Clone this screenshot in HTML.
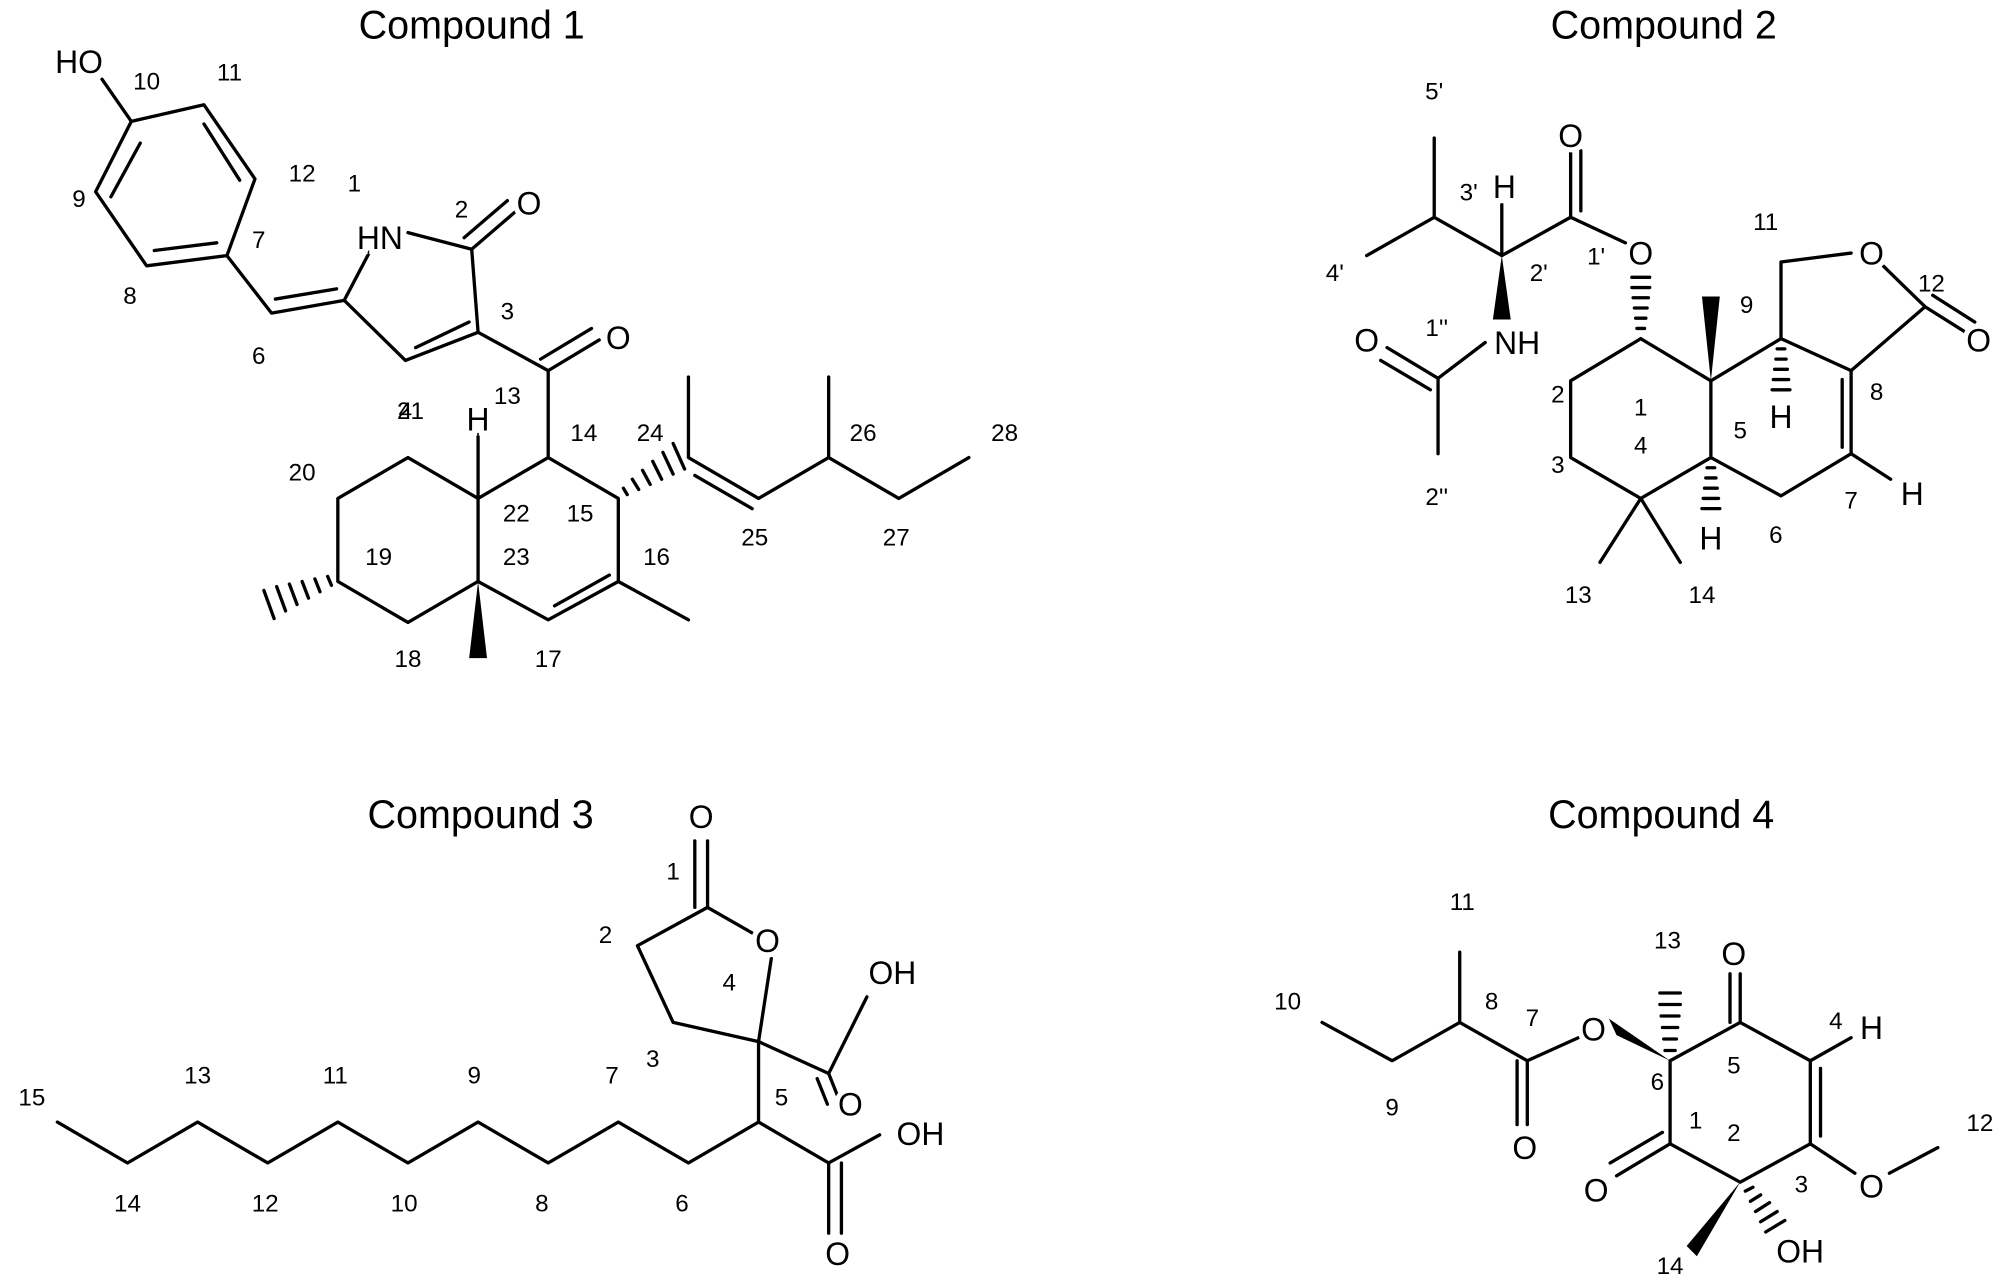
<!DOCTYPE html>
<html><head><meta charset="utf-8"><style>
html,body{margin:0;padding:0;background:#fff;}
svg{display:block;}
text{font-family:"Liberation Sans",Arial,sans-serif;fill:#000;}
.t{font-size:31px;text-anchor:middle;}
.a{font-size:25px;text-anchor:middle;stroke:#fff;stroke-width:8px;paint-order:stroke;}
.n{font-size:19px;text-anchor:middle;}
line,polyline{stroke:#000;stroke-width:2.6;fill:none;stroke-linecap:round;stroke-linejoin:round;}
</style></head><body>
<svg width="1999" height="1278" viewBox="0 0 1568 1000" preserveAspectRatio="none">
<!-- Compound 1 -->
<text class="t" x="370" y="30">Compound 1</text>
<polyline points="80,62 103,95 160,82 200,140 178,200 115,208 75,150 103,95"/>
<line x1="110" y1="112" x2="87" y2="154"/>
<line x1="160" y1="97" x2="188" y2="141"/>
<line x1="170" y1="190" x2="121" y2="196"/>
<polyline points="178,200 213,245 270,235 318,282 375,260 370,195 320,182"/>
<line x1="216" y1="234" x2="264" y2="226"/>
<line x1="270" y1="235" x2="290" y2="197"/>
<line x1="326" y1="272" x2="368" y2="252"/>
<line x1="370" y1="195" x2="405" y2="165"/><line x1="364" y1="186" x2="398" y2="157"/>
<polyline points="375,260 430,290 430,358"/>
<line x1="430" y1="290" x2="470" y2="266"/><line x1="424" y1="281" x2="464" y2="257"/>
<polyline points="430,358 485,390 485,455 430,485 375,455 375,390 430,358"/>
<line x1="478" y1="450" x2="435" y2="474"/>
<line x1="485" y1="455" x2="540" y2="485"/>
<line x1="375" y1="390" x2="375" y2="340"/>
<polyline points="375,390 320,358 265,390 265,455 320,487 375,455"/>
<polygon points="375,455 368,515 382,515" fill="#000"/>
<g stroke="#000" stroke-width="2.2">
<line x1="492" y1="387" x2="489" y2="382"/><line x1="501" y1="383" x2="496" y2="375"/><line x1="510" y1="379" x2="504" y2="368"/><line x1="519" y1="375" x2="512" y2="361"/><line x1="528" y1="371" x2="520" y2="354"/><line x1="537" y1="367" x2="528" y2="347"/>
<line x1="260" y1="458" x2="257" y2="451"/><line x1="251" y1="463" x2="247" y2="453"/><line x1="242" y1="468" x2="237" y2="455"/><line x1="233" y1="473" x2="227" y2="457"/><line x1="224" y1="478" x2="217" y2="459"/><line x1="215" y1="484" x2="207" y2="462"/>
</g>
<polyline points="540,295 540,358 595,390 650,358 705,390 760,358"/>
<line x1="545" y1="372" x2="590" y2="398"/>
<line x1="650" y1="358" x2="650" y2="295"/>
<text class="a" x="62" y="57">HO</text>
<text class="a" x="298" y="195">HN</text>
<text class="a" x="415" y="168">O</text>
<text class="a" x="485" y="273">O</text>
<text class="a" x="375" y="337">H</text>
<g class="n">
<text x="115" y="70">10</text><text x="180" y="63">11</text><text x="237" y="142">12</text><text x="278" y="150">1</text><text x="62" y="162">9</text>
<text x="362" y="170">2</text><text x="203" y="194">7</text><text x="102" y="238">8</text><text x="203" y="285">6</text><text x="398" y="250">3</text>
<text x="318" y="328">4</text><text x="322" y="328">21</text><text x="398" y="316">13</text><text x="458" y="345">14</text><text x="510" y="345">24</text>
<text x="237" y="376">20</text><text x="405" y="408">22</text><text x="455" y="408">15</text><text x="297" y="442">19</text><text x="405" y="442">23</text>
<text x="515" y="442">16</text><text x="592" y="427">25</text><text x="677" y="345">26</text><text x="703" y="427">27</text><text x="788" y="345">28</text>
<text x="320" y="522">18</text><text x="430" y="522">17</text>
</g>

<!-- Compound 2 -->
<text class="t" x="1305" y="30">Compound 2</text>
<polyline points="1287,265 1232,298 1232,358 1287,390 1342,358 1342,298 1287,265"/>
<polyline points="1342,298 1397,265 1452,290 1452,355 1397,388 1342,358"/>
<line x1="1445" y1="297" x2="1445" y2="350"/>
<polyline points="1397,265 1397,205 1452,198"/>
<polyline points="1474,205 1510,240 1452,290"/>
<line x1="1510" y1="240" x2="1545" y2="262"/><line x1="1516" y1="231" x2="1549" y2="252"/>
<line x1="1452" y1="355" x2="1483" y2="375"/>
<polygon points="1342,298 1335,232 1349,232" fill="#000"/>
<g stroke="#000" stroke-width="2.2">
<line x1="1394" y1="273" x2="1400" y2="273"/><line x1="1393" y1="281" x2="1401" y2="281"/><line x1="1392" y1="289" x2="1402" y2="289"/><line x1="1391" y1="297" x2="1403" y2="297"/><line x1="1390" y1="305" x2="1404" y2="305"/>
<line x1="1339" y1="366" x2="1345" y2="366"/><line x1="1338" y1="374" x2="1346" y2="374"/><line x1="1337" y1="382" x2="1347" y2="382"/><line x1="1336" y1="390" x2="1348" y2="390"/><line x1="1335" y1="398" x2="1349" y2="398"/>
<line x1="1284" y1="257" x2="1290" y2="257"/><line x1="1283" y1="249" x2="1291" y2="249"/><line x1="1282" y1="241" x2="1292" y2="241"/><line x1="1281" y1="233" x2="1293" y2="233"/><line x1="1280" y1="225" x2="1294" y2="225"/><line x1="1280" y1="217" x2="1294" y2="217"/>
</g>
<line x1="1287" y1="390" x2="1255" y2="440"/><line x1="1287" y1="390" x2="1318" y2="440"/>
<polyline points="1275,190 1232,170 1178,200 1125,170 1072,200"/>
<line x1="1232" y1="170" x2="1232" y2="118"/><line x1="1240" y1="165" x2="1240" y2="118"/>
<line x1="1125" y1="170" x2="1125" y2="108"/>
<line x1="1178" y1="200" x2="1178" y2="160"/>
<polygon points="1178,200 1171,250 1185,250" fill="#000"/>
<polyline points="1165,268 1128,296 1128,355"/>
<line x1="1128" y1="296" x2="1088" y2="272"/><line x1="1122" y1="305" x2="1083" y2="282"/>
<text class="a" x="1468" y="207">O</text>
<text class="a" x="1552" y="275">O</text>
<text class="a" x="1500" y="395">H</text>
<text class="a" x="1397" y="335">H</text>
<text class="a" x="1342" y="430">H</text>
<text class="a" x="1287" y="207">O</text>
<text class="a" x="1232" y="115">O</text>
<text class="a" x="1180" y="155">H</text>
<text class="a" x="1190" y="277">NH</text>
<text class="a" x="1072" y="275">O</text>
<g class="n">
<text x="1125" y="78">5'</text><text x="1152" y="157">3'</text><text x="1047" y="220">4'</text><text x="1207" y="220">2'</text><text x="1252" y="207">1'</text>
<text x="1127" y="263">1''</text><text x="1127" y="395">2''</text><text x="1385" y="180">11</text><text x="1515" y="228">12</text><text x="1370" y="245">9</text>
<text x="1472" y="313">8</text><text x="1287" y="325">1</text><text x="1222" y="315">2</text><text x="1222" y="370">3</text><text x="1287" y="355">4</text>
<text x="1365" y="343">5</text><text x="1452" y="398">7</text><text x="1393" y="425">6</text><text x="1238" y="472">13</text><text x="1335" y="472">14</text>
</g>

<!-- Compound 3 -->
<text class="t" x="377" y="648">Compound 3</text>
<polyline points="45,878 100,910 155,878 210,910 265,878 320,910 375,878 430,910 485,878 540,910 595,878 650,910 690,888"/>
<line x1="650" y1="910" x2="650" y2="965"/><line x1="660" y1="910" x2="660" y2="965"/>
<polyline points="595,878 595,815 528,800 500,740 555,710 590,730"/>
<line x1="555" y1="710" x2="555" y2="658"/><line x1="545" y1="710" x2="545" y2="658"/>
<line x1="595" y1="815" x2="605" y2="750"/>
<polyline points="595,815 650,840 680,780"/>
<line x1="650" y1="840" x2="658" y2="860"/><line x1="641" y1="844" x2="649" y2="864"/>
<text class="a" x="550" y="648">O</text>
<text class="a" x="602" y="745">O</text>
<text class="a" x="700" y="770">OH</text>
<text class="a" x="667" y="873">O</text>
<text class="a" x="722" y="896">OH</text>
<text class="a" x="657" y="990">O</text>
<g class="n">
<text x="528" y="688">1</text><text x="475" y="738">2</text><text x="572" y="775">4</text><text x="512" y="835">3</text><text x="613" y="865">5</text>
<text x="480" y="848">7</text><text x="372" y="848">9</text><text x="263" y="848">11</text><text x="155" y="848">13</text><text x="25" y="865">15</text>
<text x="100" y="948">14</text><text x="208" y="948">12</text><text x="317" y="948">10</text><text x="425" y="948">8</text><text x="535" y="948">6</text>
</g>

<!-- Compound 4 -->
<text class="t" x="1303" y="648">Compound 4</text>
<polyline points="1310,830 1365,800 1420,830 1420,895 1365,925 1310,895 1310,830"/>
<line x1="1428" y1="836" x2="1428" y2="889"/>
<line x1="1365" y1="800" x2="1365" y2="762"/><line x1="1357" y1="800" x2="1357" y2="762"/>
<line x1="1420" y1="830" x2="1452" y2="812"/>
<polyline points="1420,895 1455,918"/><polyline points="1482,918 1520,898"/>
<line x1="1310" y1="895" x2="1268" y2="920"/><line x1="1304" y1="886" x2="1263" y2="910"/>
<polygon points="1365,925 1323,975 1331,983" fill="#000"/>
<g stroke="#000" stroke-width="2.2">
<line x1="1369" y1="932" x2="1375" y2="929"/><line x1="1373" y1="940" x2="1381" y2="935"/><line x1="1377" y1="948" x2="1388" y2="941"/><line x1="1381" y1="956" x2="1394" y2="948"/><line x1="1385" y1="964" x2="1400" y2="955"/>
<line x1="1306" y1="822" x2="1314" y2="822"/><line x1="1305" y1="813" x2="1315" y2="813"/><line x1="1304" y1="804" x2="1316" y2="804"/><line x1="1303" y1="795" x2="1317" y2="795"/><line x1="1302" y1="786" x2="1318" y2="786"/><line x1="1302" y1="777" x2="1318" y2="777"/>
</g>
<polygon points="1310,830 1262,797 1268,810" fill="#000"/>
<polyline points="1238,812 1198,830 1145,800 1092,830 1037,800"/>
<line x1="1145" y1="800" x2="1145" y2="745"/>
<line x1="1198" y1="830" x2="1198" y2="880"/><line x1="1190" y1="830" x2="1190" y2="880"/>
<text class="a" x="1360" y="755">O</text>
<text class="a" x="1468" y="813">H</text>
<text class="a" x="1468" y="937">O</text>
<text class="a" x="1252" y="940">O</text>
<text class="a" x="1412" y="988">OH</text>
<text class="a" x="1250" y="814">O</text>
<text class="a" x="1196" y="907">O</text>
<g class="n">
<text x="1147" y="712">11</text><text x="1308" y="742">13</text><text x="1010" y="790">10</text><text x="1170" y="790">8</text><text x="1202" y="803">7</text>
<text x="1440" y="805">4</text><text x="1360" y="840">5</text><text x="1300" y="853">6</text><text x="1330" y="883">1</text><text x="1360" y="893">2</text>
<text x="1413" y="933">3</text><text x="1092" y="873">9</text><text x="1553" y="885">12</text><text x="1310" y="997">14</text>
</g>
</svg>
</body></html>
